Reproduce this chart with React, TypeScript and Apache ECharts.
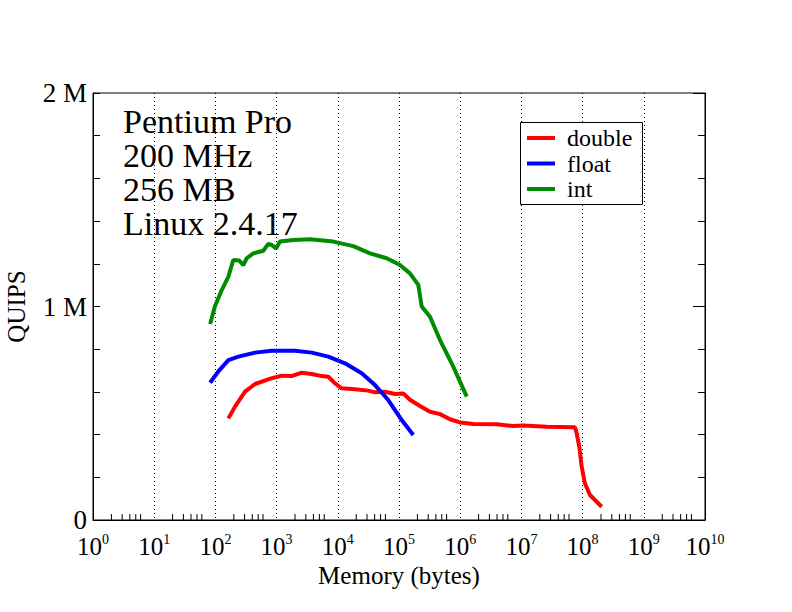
import React, { useEffect, useRef } from "react";
import * as echarts from "echarts";

const FONT = "Liberation Serif";

const titleLines = ["Pentium Pro", "200 MHz", "256 MB", "Linux 2.4.17"];
const seriesNames = ["double", "float", "int"];
const seriesColors = ["#ff0000", "#0000ff", "#008b00"];

// memory in bytes, QUIPS in millions
const doubleBytes = [163, 209, 305, 444, 731, 1211, 1765, 2570, 3750, 5460, 7000, 9000, 11580, 19100, 31500, 40500, 59000, 86000, 117500, 151000, 220000, 321000, 468000, 681000, 993000, 1640000, 3950000, 7380000, 10700000, 25900000, 75100000, 80100000, 88300000, 96600000, 109000000, 132000000, 205000000];
const doubleQuips = [0.476, 0.531, 0.601, 0.637, 0.659, 0.676, 0.674, 0.69, 0.684, 0.674, 0.671, 0.64, 0.617, 0.612, 0.606, 0.598, 0.601, 0.59, 0.593, 0.563, 0.534, 0.507, 0.496, 0.472, 0.457, 0.45, 0.448, 0.44, 0.443, 0.437, 0.434, 0.406, 0.343, 0.25, 0.172, 0.117, 0.062];

const floatBytes = [82, 111, 163, 237, 444, 832, 2000, 3750, 7000, 13100, 24600, 40500, 66800, 110700, 171000];
const floatQuips = [0.643, 0.695, 0.749, 0.765, 0.784, 0.793, 0.793, 0.784, 0.765, 0.734, 0.687, 0.632, 0.562, 0.468, 0.398];

const intBytes = [82, 98, 127, 163, 196, 246, 286, 325, 416, 606, 731, 832, 977, 1137, 1877, 3514, 8440, 17920, 33560, 62900, 103800, 151000, 206600, 235000, 321000, 468000, 771000, 1280000];
const intQuips = [0.918, 1.0, 1.077, 1.14, 1.218, 1.215, 1.194, 1.226, 1.249, 1.261, 1.293, 1.288, 1.272, 1.304, 1.311, 1.315, 1.304, 1.283, 1.249, 1.226, 1.194, 1.155, 1.101, 1.0, 0.952, 0.843, 0.718, 0.578];

const xMin = 1;
const xMax = 1e10;
const minorMultipliers = [2, 3, 4, 5, 6];
const decadeExponents = [0, 1, 2, 3, 4, 5, 6, 7, 8, 9];

const zip = (xs: number[], ys: number[]) => xs.map((x, i) => [x, ys[i]]);

export default function App() {
  const ref = useRef<HTMLDivElement>(null);
  useEffect(() => {
    if (!ref.current) return;
    const chart = echarts.init(ref.current, null, { renderer: "svg" });
    const minorTickData: number[][] = [];
    decadeExponents.forEach((e) =>
      minorMultipliers.forEach((m) => minorTickData.push([m * Math.pow(10, e), 0]))
    );
    const lineData = [zip(doubleBytes, doubleQuips), zip(floatBytes, floatQuips), zip(intBytes, intQuips)];
    const option: any = {
      animation: false,
      backgroundColor: "#ffffff",
      title: {
        text: titleLines.join("\n"),
        left: 123,
        top: 104,
        padding: 0,
        z: 6,
        textStyle: { fontFamily: FONT, fontSize: 34, lineHeight: 34, fontWeight: "normal", color: "#000" },
      },
      grid: {
        left: 93,
        right: 87,
        top: 93,
        bottom: 92,
        containLabel: false,
        outerBoundsMode: "none",
        show: true,
        borderColor: "#000",
        borderWidth: 1,
        backgroundColor: "transparent",
      },
      legend: {
        orient: "vertical",
        left: 527,
        top: 126,
        itemGap: 1.5,
        itemWidth: 28,
        itemHeight: 4,
        icon: "rect",
        padding: 0,
        z: 5,
        data: seriesNames,
        textStyle: { fontFamily: FONT, fontSize: 24, color: "#000", padding: [0, 0, 0, 7] },
      },
      graphic: [
        {
          type: "rect",
          z: 1,
          shape: { x: 520.5, y: 122.5, width: 122, height: 82 },
          style: { fill: "#fff", stroke: "#000", lineWidth: 1 },
        },
      ],
      xAxis: {
        type: "log",
        logBase: 10,
        min: xMin,
        max: xMax,
        interval: 1,
        splitNumber: 10,
        name: "Memory (bytes)",
        nameLocation: "middle",
        nameGap: 43,
        nameTextStyle: { fontFamily: FONT, fontSize: 25, color: "#000" },
        axisLine: { show: true, lineStyle: { color: "#000", width: 1 } },
        axisTick: { show: false },
        splitLine: { show: true, lineStyle: { color: "#000", width: 1, type: [1, 3] } },
        axisLabel: {
          margin: 12,
          color: "#000",
          showMinLabel: true,
          showMaxLabel: true,
          formatter: (v: number) => `{b|10}{s|${Math.round(Math.log10(v))}}`,
          rich: {
            b: { fontFamily: FONT, fontSize: 25, color: "#000" },
            s: { fontFamily: FONT, fontSize: 14, color: "#000", padding: [0, 0, 14, 0] },
          },
        },
      },
      yAxis: [
        {
          type: "value",
          min: 0,
          max: 2,
          interval: 0.2,
          name: "QUIPS",
          nameLocation: "middle",
          nameGap: 64,
          nameRotate: 90,
          nameTextStyle: { fontFamily: FONT, fontSize: 25, color: "#000" },
          axisLine: { show: true, lineStyle: { color: "#000", width: 1 } },
          axisTick: { show: true, inside: true, length: 7, lineStyle: { color: "#000" } },
          splitLine: { show: false },
          axisLabel: {
            margin: 6,
            fontFamily: FONT,
            fontSize: 27,
            color: "#000",
            formatter: (v: number) => {
              if (Math.abs(v) < 1e-9) return "0";
              if (Math.abs(v - 1) < 1e-9) return "1 M";
              if (Math.abs(v - 2) < 1e-9) return "2 M";
              return "";
            },
          },
        },
        {
          type: "value",
          position: "right",
          min: 0,
          max: 2,
          interval: 1,
          axisLine: { show: true, lineStyle: { color: "#000", width: 1 } },
          axisTick: { show: true, inside: true, length: 12, lineStyle: { color: "#000" } },
          minorTick: { show: true, splitNumber: 5, length: 7, lineStyle: { color: "#000" } },
          splitLine: { show: false },
          axisLabel: { show: false },
        },
      ],
      series: [
        ...seriesNames.map((name, i) => ({
          name,
          type: "line",
          data: lineData[i],
          showSymbol: false,
          symbol: "none",
          color: seriesColors[i],
          lineStyle: { color: seriesColors[i], width: 4 },
          z: 3,
        })),
        {
          type: "custom",
          name: "minorTicks",
          silent: true,
          clip: false,
          data: minorTickData,
          renderItem: (_p: any, api: any) => {
            const pt = api.coord([api.value(0), 0]);
            return {
              type: "line",
              shape: { x1: pt[0], y1: pt[1], x2: pt[0], y2: pt[1] - 6 },
              style: { stroke: "#000", lineWidth: 1 },
            };
          },
        },
      ],
    };
    chart.setOption(option);
    return () => chart.dispose();
  }, []);
  return <div ref={ref} style={{ position: "fixed", left: 0, top: 0, width: 792, height: 612 }} />;
}
